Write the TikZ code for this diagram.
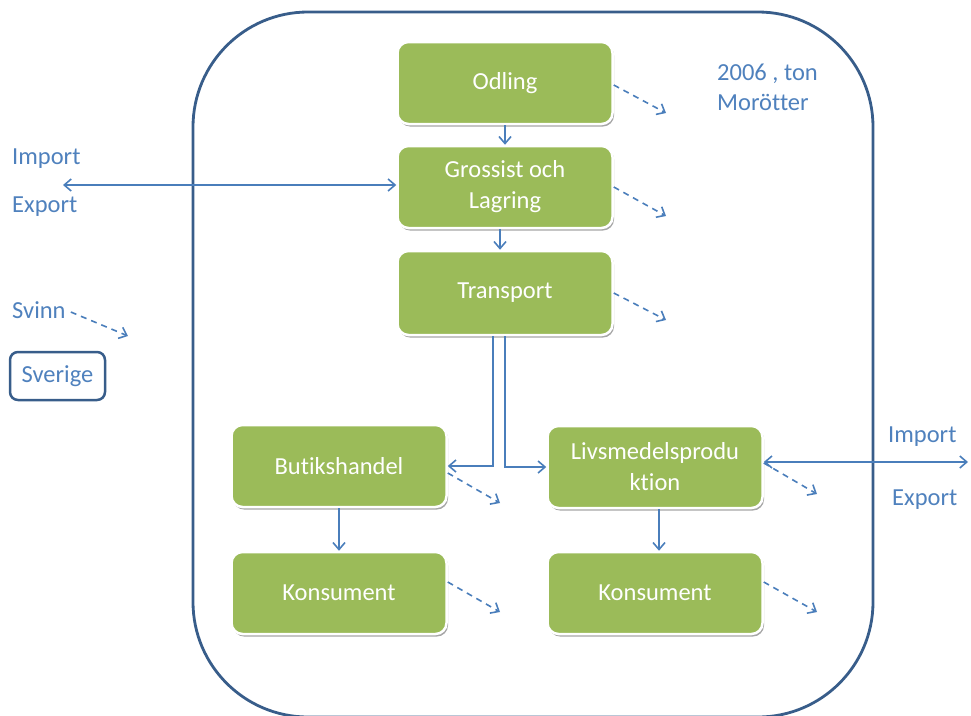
\documentclass[tikz,border=0pt]{standalone}
\usepackage{fontspec}
\setmainfont{Carlito}[Ligatures=NoCommon]
\usetikzlibrary{arrows.meta,shadows}
\definecolor{gfill}{HTML}{9BBB59}
\definecolor{arrblue}{HTML}{4A7EBB}
\definecolor{txtblue}{HTML}{4F81BD}
\definecolor{frameblue}{HTML}{385D8A}
\begin{document}
\begin{tikzpicture}[x=1pt,y=-1pt,
  gbox/.style={draw=white, line width=2.5pt, fill=gfill, rounded corners=11pt,
    minimum width=215pt, minimum height=82pt, text=white, align=center,
    font=\fontsize{24.5}{31}\selectfont, inner sep=0pt,
    drop shadow={shadow xshift=1.5pt, shadow yshift=-2.5pt, fill=black, opacity=0.35}},
  lbl/.style={text=txtblue, font=\fontsize{24.5}{30}\selectfont, inner sep=0pt, anchor=west, align=left},
  arr/.style={draw=arrblue, line width=1.6pt, -{Straight Barb[length=7pt,width=12pt]}},
  darr/.style={draw=arrblue, line width=1.6pt, {Straight Barb[length=7pt,width=12pt]}-{Straight Barb[length=7pt,width=12pt]}},
  loss/.style={draw=arrblue, line width=1.6pt, dash pattern=on 6pt off 5pt, -{Straight Barb[length=7pt,width=12pt]}}
]
\useasboundingbox (0,0) rectangle (971,715);
% frame
\draw[frameblue, line width=2.8pt, rounded corners=115pt] (193,12) rectangle (873,717);

% boxes
\node[gbox] (odl) at (505,83) {Odling};
\node[gbox] (gro) at (505,187) {Grossist och\\Lagring};
\node[gbox, minimum height=84pt] (tra) at (505,293) {Transport};
\node[gbox] (but) at (339,466) {Butikshandel};
\node[gbox] (liv) at (655,467) {Livsmedelsprodu\\ktion};
\node[gbox] (kon1) at (339,593) {Konsument};
\node[gbox] (kon2) at (655,593) {Konsument};

% labels
\node[lbl] (yr) at (717,87) {2006 , ton\\Morötter};
\node[lbl] (imL) at (12,159) {Import};
\node[lbl] (exL) at (12,207) {Export};
\node[lbl] (svi) at (12,310) {Svinn};
\node[lbl] (imR) at (888,437) {Import};
\node[lbl] (exR) at (892,500) {Export};
\node[draw=frameblue, line width=2.5pt, rounded corners=8pt, minimum width=95pt,
      minimum height=48pt, text=txtblue, font=\fontsize{24.5}{30}\selectfont, inner sep=0pt]
      (sve) at (57.5,376) {Sverige};

% flow arrows
\draw[arr] (odl.south) -- (gro.north);
\draw[arr] ([xshift=-5pt]gro.south) -- ([xshift=-5pt]tra.north);
\coordinate (ieL) at (63,185);
\draw[darr] (ieL) -- (ieL -| gro.west);
\draw[arr] ([xshift=-12pt]tra.south) |- (but.east);
\draw[arr] (tra.south) |- (liv.west);
\coordinate (ieR) at (968,462);
\draw[darr] (ieR -| liv.east) -- (ieR);
\draw[arr] (but.south) -- (kon1.north);
\draw[arr] ([xshift=4pt]liv.south) -- ([xshift=4pt]kon2.north);

% loss arrows
\coordinate (l1) at (666,113);
\coordinate (l2) at (666,216);
\coordinate (l3) at (666,320);
\coordinate (l4) at (500,503);
\coordinate (l5) at (817,494);
\coordinate (l6) at (500,612);
\coordinate (l7) at (817,612);
\coordinate (l8) at (128,336);
\draw[loss] ([yshift=-2pt]odl.east) -- (l1);
\draw[loss] (gro.east) -- (l2);
\draw[loss] (tra.east) -- (l3);
\draw[loss] ([yshift=-7pt]but.east) -- (l4);
\draw[loss] ([yshift=4pt]liv.east) -- (l5);
\draw[loss] ([yshift=11pt]kon1.east) -- (l6);
\draw[loss] ([yshift=11pt]kon2.east) -- (l7);
\draw[loss] ([xshift=5pt,yshift=-2pt]svi.east) -- (l8);
\end{tikzpicture}
\end{document}
